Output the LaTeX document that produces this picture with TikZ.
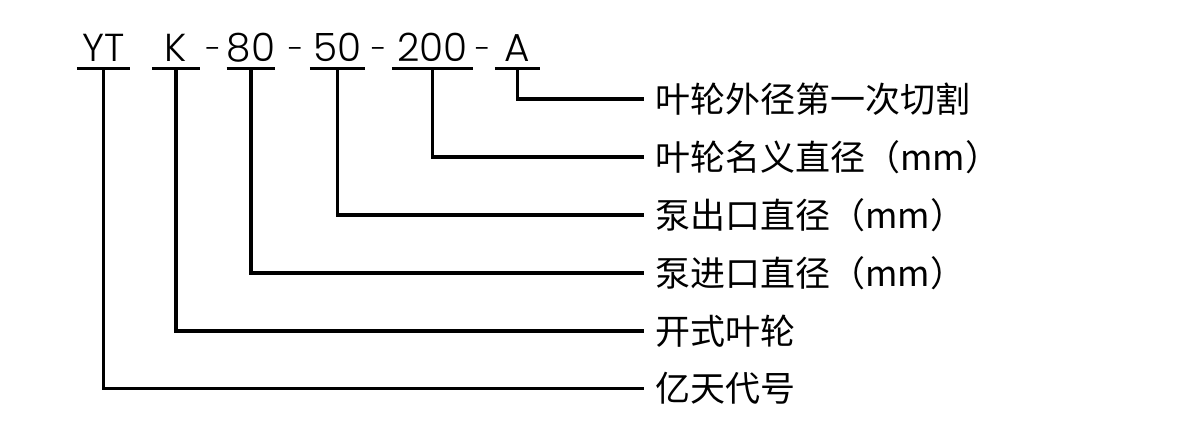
\documentclass[tikz,border=0pt]{standalone}
\usepackage{fontspec}
\newfontfamily\cjk{Noto Sans CJK SC}
\newfontfamily\geo{Poppins Light}
\begin{document}
\begin{tikzpicture}[x=1pt,y=-1pt,
  code/.style={font=\geo\fontsize{39}{39}\selectfont, anchor=south, inner xsep=0pt, inner ysep=6.5pt, text depth=0pt},
  sep/.style={font=\geo\fontsize{30}{30}\selectfont, anchor=base, inner sep=0pt},
  desc/.style={font=\cjk\fontsize{35}{35}\selectfont, anchor=west, inner xsep=11pt, inner ysep=0pt},
  ln/.style={line width=3.4pt, line cap=butt}]
\useasboundingbox (0,0) rectangle (1180,446);
\fill[white] (0,0) rectangle (1180,446);
% code parts
\node[code, minimum width=53pt] (yt) at (103.5,68.5) {YT};
\node[code, minimum width=48pt] (k) at (176,68.5) {K};
\node[code, minimum width=48pt] (p80) at (251,68.5) {80};
\node[code, minimum width=55pt] (p50) at (337.5,68.5) {50};
\node[code, minimum width=81pt] (p200) at (432.5,68.5) {200};
\node[code, minimum width=45pt] (a) at (517.5,68.5) {A};
\node[sep] (d1) at (213.5,60) {-};
\node[sep] (d2) at (296,60) {-};
\node[sep] (d3) at (379,60) {-};
\node[sep] (d4) at (483,60) {-};
% descriptions
\node[desc] (la) at (644,99) {叶轮外径第一次切割};
\node[desc] (l200) at (644,157) {叶轮名义直径（mm）};
\node[desc] (l50) at (644,215) {泵出口直径（mm）};
\node[desc] (l80) at (644,273) {泵进口直径（mm）};
\node[desc] (lk) at (644,331) {开式叶轮};
\node[desc] (lyt) at (644,388.5) {亿天代号};
% underlines
\foreach \n in {yt,k,p80,p50,p200,a}
  \draw[ln] (\n.south west) -- (\n.south east);
% connectors
\draw[ln] (a.south) |- (la.west);
\draw[ln] (p200.south) |- (l200.west);
\draw[ln] (p50.south) |- (l50.west);
\draw[ln] (p80.south) |- (l80.west);
\draw[ln] (k.south) |- (lk.west);
\draw[ln] (yt.south) |- (lyt.west);
\end{tikzpicture}
\end{document}
